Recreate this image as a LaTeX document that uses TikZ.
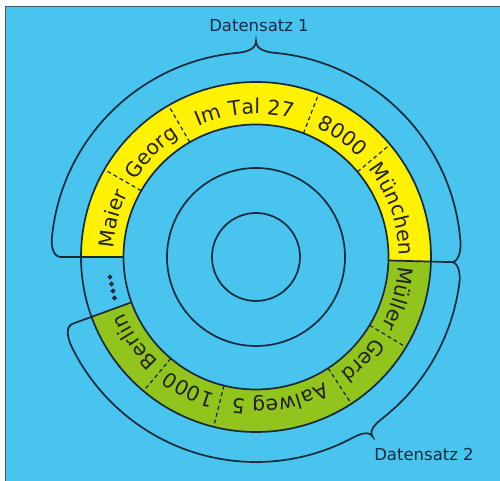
\documentclass[tikz,border=0pt]{standalone}
\usepackage{fontspec}
\setmainfont{DejaVu Sans}
\usetikzlibrary{decorations.text}
\definecolor{hintergrund}{RGB}{72,196,238}
\definecolor{gelb}{RGB}{255,242,0}
\definecolor{gruen}{RGB}{145,196,28}
\definecolor{linie}{RGB}{22,42,62}
\definecolor{schrift}{RGB}{35,35,30}
\newcommand{\ringfont}{\fontsize{20.5}{21}\selectfont}
\begin{document}
\begin{tikzpicture}[x=1pt, y=1pt,
    linie/.style={draw=linie, line width=1.7pt},
    trenn/.style={draw=linie, line width=1.2pt, dash pattern=on 4pt off 3pt},
    ringtext/.style={decorate, decoration={text along path, text align=center, text color=schrift, text={|\ringfont|#1}}},
    titel/.style={text=linie, font=\fontsize{16.5}{17}\selectfont}]
    \useasboundingbox (-256,-224) rectangle (244,257);
    \fill[white] (-256,-224) rectangle (244,257);
    \fill[hintergrund] (-251,-230) rectangle (250,251);
    \draw[linie!80, line width=0.8pt] (-251,-230) -- (-251,251) -- (250,251);

    \fill[gelb] (180:132.5) -- (180:175) arc[start angle=180, end angle=-1.5, radius=175] -- (-1.5:132.5) arc[start angle=-1.5, end angle=180, radius=132.5] -- cycle;
    \fill[gruen] (-1.5:132.5) -- (-1.5:175) arc[start angle=-1.5, end angle=-160, radius=175] -- (-160:132.5) arc[start angle=-160, end angle=-1.5, radius=132.5] -- cycle;

    \foreach \r in {44,89,132.5,175}
        \draw[linie] (0,0) circle[radius=\r];
    \foreach \w in {150,120,69,40,-31,-57,-104,-130}
        \draw[trenn] (\w:132.5) -- (\w:175);

    \path[ringtext=Maier] (180:143) arc[start angle=180, end angle=150, radius=143];
    \path[ringtext=Georg] (150:143) arc[start angle=150, end angle=120, radius=143];
    \path[ringtext=Im Tal 27] (120:143) arc[start angle=120, end angle=69, radius=143];
    \path[ringtext=8000] (69:143) arc[start angle=69, end angle=40, radius=143];
    \path[ringtext=München] (40:143) arc[start angle=40, end angle=-1.5, radius=143];
    \path[ringtext=Müller] (-1.5:143) arc[start angle=-1.5, end angle=-31, radius=143];
    \path[ringtext=Gerd] (-31:143) arc[start angle=-31, end angle=-57, radius=143];
    \path[ringtext=Aalweg 5] (-57:143) arc[start angle=-57, end angle=-104, radius=143];
    \path[ringtext=1000] (-104:143) arc[start angle=-104, end angle=-130, radius=143];
    \path[ringtext=Berlin] (-130:143) arc[start angle=-130, end angle=-160, radius=143];

    \foreach \x/\y in {-146/-20,-144.5/-27,-143/-34,-141.5/-41}
        \fill[linie] (\x,\y) circle[radius=1.5];

    \draw[linie] (180:132.5) -- (180:195) .. controls (180:202) and (177.5:205) .. (175:205)
        arc[start angle=175, end angle=95, radius=205]
        .. controls (92.5:205.3) and (90:208) .. (90:216)
        .. controls (90:208) and (87.5:205.3) .. (85:205)
        arc[start angle=85, end angle=4, radius=205]
        .. controls (1.5:205.2) and (-1.5:202) .. (-1.5:196);
    \draw[linie] (-1.5:132.5) -- (-1.5:196);
    \draw[linie] (-1.5:196) .. controls (-1.5:202) and (-4.5:205.2) .. (-7:205)
        arc[start angle=-7, end angle=-52, radius=205]
        .. controls (-54.5:205.3) and (-57:207) .. (-57:214)
        .. controls (-57:207) and (-59.5:205.3) .. (-62:205)
        arc[start angle=-62, end angle=-154, radius=205]
        .. controls (-157.5:205.3) and (-160:202) .. (-160:195)
        -- (-160:132.5);

    \node[titel] (ds1) at (3,231) {Datensatz 1};
    \node[titel] (ds2) at (168,-197) {Datensatz 2};
\end{tikzpicture}
\end{document}
